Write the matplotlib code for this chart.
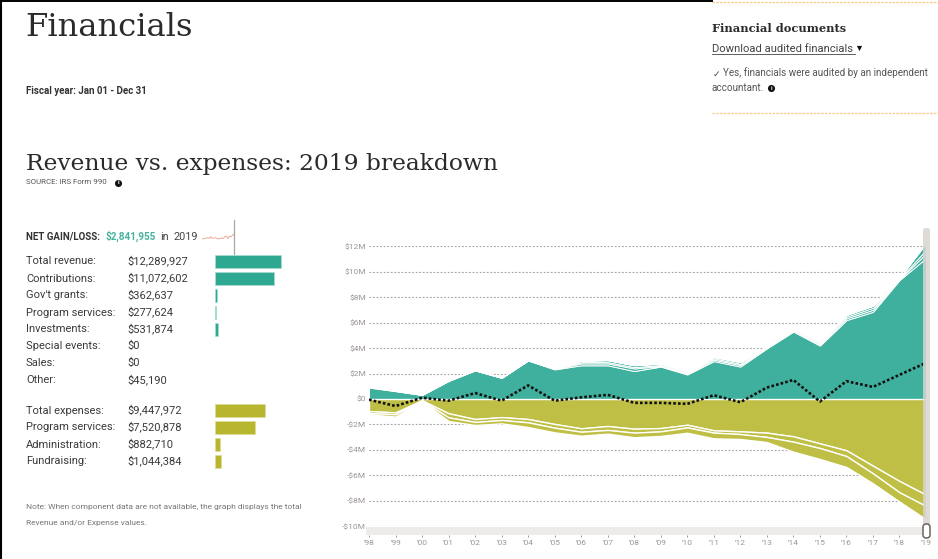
import matplotlib
matplotlib.use("Agg")
import matplotlib.pyplot as plt
from matplotlib.patches import Rectangle, FancyBboxPatch

W, H = 938, 559

years = ["'98", "'99", "'00", "'01", "'02", "'03", "'04", "'05", "'06", "'07", "'08",
         "'09", "'10", "'11", "'12", "'13", "'14", "'15", "'16", "'17", "'18", "'19"]

# revenue components, $M
contributions = [.90, .62, .32, 1.42, 2.25, 1.66, 3.03, 2.33, 2.65, 2.65, 2.20,
                 2.55, 1.93, 2.98, 2.55, 3.98, 5.30, 4.20, 6.20, 6.85, 9.35, 11.072602]
govt_grants = [.05, .02, .01, .02, .01, .01, .01, .03, .15, .15, .20,
               .05, .07, .12, .12, .06, .08, .10, .14, .16, .05, .362637]
program_revenue = [.03, .02, .01, .02, .01, .01, .01, .02, .10, .10, .10,
                   .08, .07, .10, .10, .06, .08, .10, .13, .16, .05, .277624]
investments = [.05, .03, .01, .02, .01, .01, .01, .02, .10, .15, .15,
               .10, .08, .10, .13, .05, .09, .10, .13, .16, .05, .531874]
other_revenue = [.02, .01, .00, .01, .00, .00, .00, .01, .01, .01, .01,
                 .01, .01, .01, .01, .01, .01, .01, .01, .01, .01, .04519]

# expense components, $M
program_expenses = [.95, 1.05, .10, 1.12, 1.57, 1.42, 1.57, 1.96, 2.30, 2.12, 2.33,
                    2.28, 2.02, 2.46, 2.54, 2.64, 2.93, 3.48, 4.03, 5.24, 6.44, 7.520878]
administration = [.15, .15, .02, .32, .23, .23, .26, .29, .27, .31, .31,
                  .26, .21, .18, .21, .34, .42, .37, .45, .60, .89, .88271]
fundraising = [.10, .18, .03, .29, .24, .26, .37, .37, .31, .29, .36,
               .36, .42, .45, .39, .40, .79, .86, .86, .78, .73, 1.044384]

net_gain = [-.05, -.55, .10, -.13, .47, -.13, 1.07, -.13, .13, .33, -.30,
            -.30, -.38, .30, -.25, .90, 1.50, -.20, 1.40, .95, 1.90, 2.841955]

y_ticks = [12, 10, 8, 6, 4, 2, 0, -2, -4, -6, -8, -10]
y_tick_labels = ["$12M", "$10M", "$8M", "$6M", "$4M", "$2M", "$0",
                 "-$2M", "-$4M", "-$6M", "-$8M", "-$10M"]

revenue_labels = ["Total revenue:", "Contributions:", "Gov't grants:", "Program services:",
                  "Investments:", "Special events:", "Sales:", "Other:"]
revenue_values = [12289927, 11072602, 362637, 277624, 531874, 0, 0, 45190]
expense_labels = ["Total expenses:", "Program services:", "Administration:", "Fundraising:"]
expense_values = [9447972, 7520878, 882710, 1044384]

TEAL = "#3fb09d"
OLIVE = "#bfbe45"
BAR_TEAL = "#2fa892"
BAR_OLIVE = "#b8b62f"
DARK = "#2b2b2b"
DASH_ORANGE = "#f8c983"
SERIF = "DejaVu Serif"
SANS = "Roboto"


def px_axes(fig, left, top, right, bottom):
    return fig.add_axes([left / W, 1 - bottom / H, (right - left) / W, (bottom - top) / H])


def info_dot(ax, x, y):
    ax.scatter([x], [y], s=26, color="#111111", linewidths=0, zorder=6)
    ax.text(x, y + 0.2, "i", color="white", fontsize=4.5, fontweight="bold",
            ha="center", va="center", family=SANS, zorder=7)


fig = plt.figure(figsize=(W / 100, H / 100), dpi=100, facecolor="white")

# stacked area chart
ax = px_axes(fig, 369, 246.3, 926, 526.3)
x = list(range(len(years)))
ax.stackplot(x, contributions, govt_grants, program_revenue, investments, other_revenue,
             colors=[TEAL, TEAL, TEAL, TEAL, "#d5eeea"], edgecolor="white", linewidth=0.7, zorder=3)
ax.stackplot(x, [-v for v in program_expenses], [-v for v in administration], [-v for v in fundraising],
             colors=[OLIVE], edgecolor="white", linewidth=1.0, zorder=3)
ax.plot(x, net_gain, color="#111111", linewidth=1.9, linestyle=(0, (1, 0.8)), zorder=4)
ax.set_xlim(0, len(years) - 1)
ax.set_ylim(-10, 12)
ax.set_yticks(y_ticks)
ax.set_yticklabels(y_tick_labels)
ax.set_xticks(x)
ax.set_xticklabels(years)
ax.grid(axis="y", color="#a8a3a0", linewidth=0.8, linestyle=(0, (1.6, 1.6)), zorder=1)
ax.set_axisbelow(True)
for name in ["top", "left", "right"]:
    ax.spines[name].set_visible(False)
# x ticks sit below the range selector band
ax.spines["bottom"].set_position(("outward", 6.5))
ax.spines["bottom"].set_visible(False)
ax.tick_params(axis="y", length=0, pad=2, labelsize=6, labelcolor="#9c9694")
ax.tick_params(axis="x", length=1.5, width=0.7, color="#999999", pad=2, labelsize=6, labelcolor="#9c9694")
for label in ax.get_xticklabels() + ax.get_yticklabels():
    label.set_family(SANS)

# summary bars, x in dollars and y in page rows
bars = px_axes(fig, 215, 245, 300, 475)
bars.set_xlim(0, 85 / 5.34e-6)
bars.set_ylim(475, 245)
bars.axis("off")
bars.patch.set_alpha(0)
rev_rows = [261 + 17 * i - (0.5 if i > 4 else 0) for i in range(len(revenue_values))]
exp_rows = [410 + 17 * i for i in range(len(expense_values))]
rev_edges = [0.5 if v > 100000 else 0 for v in revenue_values]
bars.barh(rev_rows, revenue_values, height=13, color=BAR_TEAL, edgecolor="#a9ddd2", linewidth=rev_edges)
bars.barh(exp_rows, expense_values, height=13, color=BAR_OLIVE, edgecolor="#dedc9a", linewidth=0.5)

# small net gain trend next to the headline figure
spark = px_axes(fig, 201.5, 233, 234, 241)
spark.plot(x, net_gain, color="#e9a08c", linewidth=0.6)
spark.set_xlim(0, len(years) - 1)
spark.set_ylim(-1.8, 3.4)
spark.axis("off")
spark.patch.set_alpha(0)

# page furniture and text
page = fig.add_axes([0, 0, 1, 1], zorder=5)
page.set_xlim(0, W)
page.set_ylim(H, 0)
page.axis("off")
page.patch.set_alpha(0)

page.plot([0, 712], [0.5, 0.5], color="black", linewidth=1.4)
page.plot([0.8, 0.8], [0, H], color="black", linewidth=1.5)
page.plot([712, W], [2, 2], color=DASH_ORANGE, linewidth=0.9, linestyle=(0, (2, 1)))
page.plot([712, W], [112.5, 112.5], color=DASH_ORANGE, linewidth=0.9, linestyle=(0, (2, 1)))

page.text(25.5, 36, "Financials", family=SERIF, fontsize=23.2, color=DARK, va="baseline")
page.text(26, 94, "Fiscal year: Jan 01 - Dec 31", family=SANS, fontsize=7.0, fontweight="bold", color="#333333", va="baseline")
page.text(25.5, 170, "Revenue vs. expenses: 2019 breakdown", family=SERIF, fontsize=16.85, color=DARK, va="baseline")
page.text(26, 184.5, "SOURCE: IRS Form 990", family=SANS, fontsize=5.7, color="#555555", va="baseline")
info_dot(page, 118, 182.5)

page.text(712, 32, "Financial documents", family=SERIF, fontsize=8.2, fontweight="bold", color=DARK, va="baseline")
page.text(712, 51.5, "Download audited financials", family=SANS, fontsize=8.1, color="#444444", va="baseline")
page.plot([712, 855], [53.5, 53.5], color="#444444", linewidth=0.6)
page.scatter([859], [47.5], marker="v", s=14, color="#111111", linewidths=0)
page.text(713, 77, "\u2713", family="DejaVu Sans", fontsize=6.5, color="#444444", va="baseline")
page.text(723, 76.5, "Yes, financials were audited by an independent", family=SANS, fontsize=7.1, color="#555555", va="baseline")
page.text(712, 91, "accountant.", family=SANS, fontsize=7.1, color="#555555", va="baseline")
info_dot(page, 771, 88)

page.text(26, 240, "NET GAIN/LOSS:", family=SANS, fontsize=7.0, fontweight="bold", color="#333333", va="baseline")
page.text(105.5, 240, "$2,841,955", family=SANS, fontsize=7.1, fontweight="bold", color="#45b29d", va="baseline")
page.text(160, 240, "in", family=SANS, fontsize=7.8, color="#444444", va="baseline")
page.text(174, 240, "2019", family=SANS, fontsize=7.8, color="#444444", va="baseline")
page.plot([234.3, 234.3], [220, 254], color="#a8a8a8", linewidth=0.9)

for row, label, value in zip(rev_rows + exp_rows, revenue_labels + expense_labels, revenue_values + expense_values):
    page.text(26, row + 3.5, label, family=SANS, fontsize=8.0, color="#3a3a3a", va="baseline")
    page.text(127.5, row + 3.5, f"${value:,}", family=SANS, fontsize=8.0, color="#3a3a3a", va="baseline")

page.text(26, 509, "Note: When component data are not available, the graph displays the total",
          family=SANS, fontsize=6.05, color="#777777", va="baseline")
page.text(26, 525, "Revenue and/or Expense values.", family=SANS, fontsize=6.05, color="#777777", va="baseline")

# range selector along the bottom and right of the chart
page.add_patch(Rectangle((366, 527), 560, 8, facecolor="#efebe9", edgecolor="none"))
page.add_patch(FancyBboxPatch((923, 228), 7, 299, boxstyle="round,pad=0,rounding_size=2.5",
                              facecolor="#d8d4d2", edgecolor="none", alpha=0.85))
page.add_patch(FancyBboxPatch((923, 524), 7, 14, boxstyle="round,pad=0,rounding_size=3",
                              facecolor="white", edgecolor="#6b6361", linewidth=1.1))

fig.savefig("out.png", dpi=100)
